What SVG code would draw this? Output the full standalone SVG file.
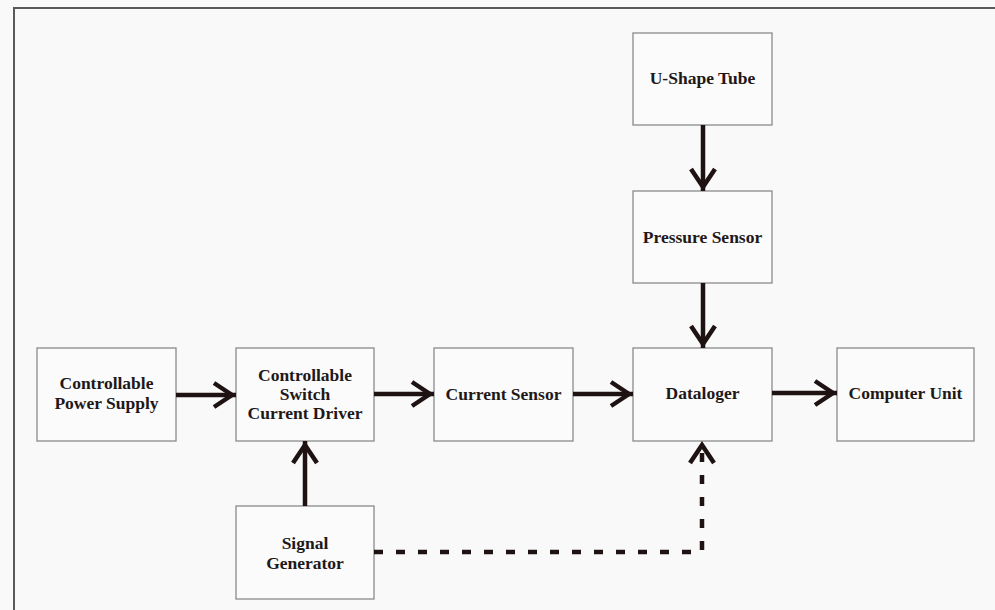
<svg xmlns="http://www.w3.org/2000/svg" width="995" height="610" viewBox="0 0 995 610">
<style>
.bg{fill:#f9f9f9}
.frame{fill:none;stroke:#5a5a5a;stroke-width:2}
.box{fill:#fbfbfb;stroke:#8a8a8a;stroke-width:1.3}
.lbl{font-family:"Liberation Serif","Times New Roman",serif;font-weight:bold;font-size:17.5px;fill:#1e1818;text-anchor:middle}
.conn{fill:none;stroke:#1e1212;stroke-width:4.5}
.dash{stroke-dasharray:9 13}
</style>
<defs>
<marker id="ah" markerUnits="userSpaceOnUse" viewBox="-24 -16 28 32" refX="3" refY="0" markerWidth="28" markerHeight="32" orient="auto">
<path d="M-19,-12 L-1,0 L-19,12" fill="none" stroke="#1e1212" stroke-width="4.5" stroke-dasharray="none"/>
</marker>
</defs>
<rect class="bg" x="0" y="0" width="995" height="610"/>
<path class="frame" d="M14,610 L14,8 L995,8"/>
<g id="power"><rect class="box" x="37" y="348" width="139" height="93"/><text class="lbl" x="106.5" y="389">Controllable</text><text class="lbl" x="106.5" y="409">Power Supply</text></g>
<g id="switch"><rect class="box" x="236" y="348" width="138" height="93"/><text class="lbl" x="305" y="381">Controllable</text><text class="lbl" x="305" y="400">Switch</text><text class="lbl" x="305" y="419">Current Driver</text></g>
<g id="current"><rect class="box" x="434" y="348" width="139" height="93"/><text class="lbl" x="503.5" y="400">Current Sensor</text></g>
<g id="datalogger"><rect class="box" x="633" y="348" width="139" height="93"/><text class="lbl" x="702.5" y="399">Dataloger</text></g>
<g id="computer"><rect class="box" x="837" y="348" width="137" height="93"/><text class="lbl" x="905.5" y="399">Computer Unit</text></g>
<g id="utube"><rect class="box" x="633" y="33" width="139" height="92"/><text class="lbl" x="702.5" y="84">U-Shape Tube</text></g>
<g id="pressure"><rect class="box" x="633" y="191" width="139" height="92"/><text class="lbl" x="702.5" y="243">Pressure Sensor</text></g>
<g id="signal"><rect class="box" x="236" y="506" width="138" height="93"/><text class="lbl" x="305" y="549">Signal</text><text class="lbl" x="305" y="569">Generator</text></g>
<g id="connectors">
<line class="conn" x1="176" y1="395" x2="236" y2="395" marker-end="url(#ah)"/>
<line class="conn" x1="374" y1="394" x2="434" y2="394" marker-end="url(#ah)"/>
<line class="conn" x1="573" y1="394" x2="633" y2="394" marker-end="url(#ah)"/>
<line class="conn" x1="772" y1="393" x2="837" y2="393" marker-end="url(#ah)"/>
<line class="conn" x1="703" y1="125" x2="703" y2="191" marker-end="url(#ah)"/>
<line class="conn" x1="703" y1="283" x2="703" y2="348" marker-end="url(#ah)"/>
<line class="conn" x1="305" y1="506" x2="305" y2="441" marker-end="url(#ah)"/>
<path class="conn dash" d="M374,552 L702,552 L702,441" marker-end="url(#ah)"/>
</g>
</svg>
